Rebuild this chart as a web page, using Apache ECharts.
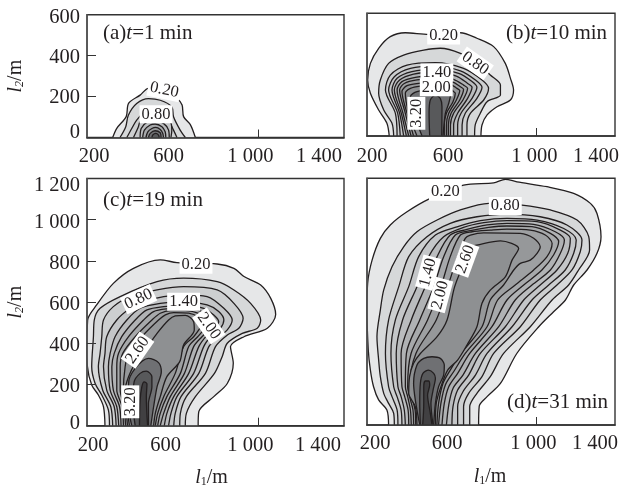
<!DOCTYPE html>
<html><head><meta charset="utf-8">
<style>html,body{margin:0;padding:0;background:#fff}#c{width:620px;height:490px}</style>
<script src="https://cdn.jsdelivr.net/npm/echarts@6/dist/echarts.min.js"></script>
</head><body><div id="c"></div>
<script>
const levels=['0.20','0.80','1.00','1.20','1.40','1.60','1.80','2.00','2.30','2.60','2.90','3.20','3.50'];
const levelColors=['#e6e7e8','#d6d8d9','#cdcfd0','#c4c6c8','#babcbe','#b0b2b4','#a7a9ab','#9ea0a2','#96989a','#8e9092','#6f7073','#58595b','#414042'];

const a1=[[320,0],[339,45],[383,102],[394,167],[448,207],[487,240],[558,224],[620,191],[644,159],[651,102],[683,62],[706,0]];
const a2=[[354,0],[381,53],[393,109],[432,166],[487,190],[542,182],[596,150],[604,101],[635,36],[659,0]];
const a3=[[386,0],[409,44],[432,85],[471,126],[518,142],[557,126],[581,85],[604,36],[620,0]];
const a4=[[417,0],[440,53],[448,77],[518,118],[589,77],[596,36],[592,0]];
const a5=[[448,0],[453,44],[479,74],[518,82],[557,69],[581,36],[584,0]];
const a6=[[460,0],[468,36],[495,61],[518,66],[550,53],[565,28],[568,0]];
const a7=[[475,0],[484,28],[503,44],[521,49],[542,39],[554,20],[557,0]];
const a8=[[487,0],[495,20],[518,33],[542,23],[546,0]];
const a9=[[503,0],[507,12],[521,20],[534,12],[537,0]];

const b1=[[305,0],[294,62],[255,127],[216,209],[203,274],[216,355],[255,429],[310,486],[381,505],[491,497],[641,505],[719,478],[798,437],[853,355],[877,283],[892,225],[877,176],[814,143],[767,103],[743,54],[738,0]];
const b2=[[326,0],[318,62],[279,127],[255,209],[263,274],[302,355],[373,396],[468,420],[546,429],[641,404],[719,355],[782,298],[830,249],[830,200],[767,168],[735,111],[711,54],[708,0]];
const b3=[[342,0],[334,111],[287,225],[310,298],[389,347],[523,359],[656,331],[743,274],[774,233],[751,176],[688,111],[672,54],[672,0]];
const b4=[[357,0],[345,111],[302,225],[329,290],[405,331],[523,342],[641,319],[712,274],[743,238],[719,184],[664,111],[649,54],[649,0]];
const b5=[[373,0],[354,111],[318,225],[342,282],[412,315],[523,326],[633,306],[696,266],[719,238],[696,184],[644,111],[628,54],[628,0]];
const b6=[[386,0],[362,111],[329,225],[354,274],[420,303],[523,313],[622,293],[675,257],[696,238],[675,184],[628,111],[609,54],[609,0]];
const b7=[[397,0],[370,111],[342,225],[365,266],[428,287],[523,297],[609,277],[656,249],[675,233],[653,176],[609,111],[594,54],[594,0]];
const b8=[[408,0],[381,111],[354,225],[376,257],[436,274],[523,280],[601,266],[641,241],[656,228],[638,176],[597,111],[584,54],[584,0]];
const b9=[[420,0],[389,111],[365,217],[389,246],[444,257],[523,264],[594,253],[625,233],[638,222],[622,176],[586,111],[575,54],[575,0]];
const b10=[[436,0],[397,111],[381,209],[405,233],[452,244],[523,249],[586,238],[609,217],[617,209],[606,168],[575,111],[565,54],[565,0]];
const b11=[[460,0],[420,111],[405,192],[436,217],[523,228],[578,217],[594,200],[586,160],[570,111],[559,0]];
const b12=[[496,0],[493,111],[499,176],[523,200],[546,184],[554,143],[553,0]];

const c1=[[284,0],[277,92],[253,149],[222,198],[202,287],[200,367],[203,513],[245,586],[323,691],[417,764],[542,805],[620,792],[808,785],[886,764],[933,724],[1011,683],[1058,618],[1081,540],[1042,473],[933,432],[870,384],[883,303],[855,205],[792,141],[722,68],[719,0]];
const c2=[[305,0],[300,76],[269,149],[238,205],[222,286],[230,432],[234,513],[261,570],[355,627],[527,699],[651,716],[808,699],[886,659],[964,594],[1011,513],[995,473],[925,448],[855,400],[831,335],[795,254],[706,141],[664,60],[659,0]];
const c3=[[320,0],[311,92],[273,173],[253,286],[261,351],[269,432],[277,513],[323,578],[402,627],[527,659],[651,675],[808,659],[886,594],[929,521],[909,473],[855,440],[800,384],[753,254],[664,141],[636,60],[633,0]];
const c4=[[336,0],[327,92],[292,173],[277,286],[284,351],[292,432],[339,513],[402,570],[464,602],[558,627],[651,635],[761,627],[839,570],[878,513],[855,465],[808,424],[769,384],[722,254],[639,141],[612,60],[605,0]];
const c5=[[348,0],[339,92],[308,173],[300,286],[308,351],[331,432],[386,513],[448,570],[542,594],[651,602],[761,586],[815,554],[839,513],[823,473],[784,440],[745,384],[698,254],[620,141],[592,60],[581,0]];
const c6=[[359,0],[352,92],[323,173],[316,286],[327,351],[362,432],[425,513],[480,562],[558,578],[651,583],[745,570],[792,537],[815,505],[792,465],[761,440],[722,384],[675,254],[605,141],[573,60],[561,0]];
const c7=[[370,0],[364,92],[339,173],[339,286],[347,351],[394,432],[464,513],[511,554],[573,567],[651,570],[737,554],[776,526],[792,497],[769,465],[737,432],[698,384],[655,254],[589,141],[558,60],[542,0]];
const c8=[[380,0],[373,92],[355,173],[355,286],[367,351],[425,432],[503,513],[542,546],[589,559],[659,559],[730,542],[761,516],[769,497],[745,465],[717,432],[675,384],[636,254],[573,141],[542,60],[530,0]];
const c9=[[389,0],[381,92],[370,173],[378,286],[394,351],[456,432],[534,513],[566,538],[605,549],[675,546],[722,526],[742,500],[722,465],[698,432],[651,384],[612,254],[558,141],[530,60],[519,0]];
const c10=[[398,0],[386,92],[378,173],[394,238],[425,303],[472,367],[527,448],[581,513],[612,533],[659,536],[698,505],[701,465],[651,392],[633,311],[573,238],[542,141],[519,60],[511,0]];
const c11=[[409,0],[394,92],[394,205],[425,278],[487,327],[534,306],[547,262],[527,189],[511,92],[498,0]];
const c12=[[425,0],[414,108],[420,213],[448,254],[477,265],[503,238],[503,189],[487,108],[487,0]];
const c13=[[445,0],[448,124],[456,189],[467,213],[480,202],[477,141],[483,0]];

const d1=[[302,0],[294,73],[255,122],[231,186],[216,267],[206,365],[200,559],[203,689],[224,802],[263,908],[310,973],[389,1037],[499,1102],[656,1167],[798,1178],[853,1195],[908,1183],[1050,1159],[1176,1127],[1255,1078],[1286,1029],[1305,916],[1286,835],[1239,754],[1176,681],[1137,608],[1081,551],[1011,478],[908,349],[830,202],[767,138],[730,92],[727,0]];
const d2=[[329,0],[326,57],[302,105],[279,154],[263,235],[255,316],[247,430],[263,559],[279,657],[318,770],[373,867],[436,940],[531,997],[641,1046],[775,1078],[932,1070],[1066,1046],[1192,997],[1247,916],[1251,851],[1199,754],[1152,681],[1074,608],[971,478],[845,348],[782,235],[719,154],[685,89],[685,0]];
const d3=[[346,0],[342,73],[318,138],[302,186],[287,348],[302,511],[350,673],[397,819],[483,916],[593,981],[719,1013],[861,1026],[1018,1013],[1144,973],[1215,900],[1207,843],[1168,754],[1097,681],[1018,608],[924,478],[798,348],[743,235],[680,154],[656,89],[656,0]];
const d4=[[365,0],[361,73],[342,138],[326,186],[313,348],[334,511],[397,673],[444,819],[523,924],[625,964],[735,994],[861,1005],[1003,997],[1129,956],[1188,900],[1176,835],[1136,754],[1058,681],[979,608],[885,478],[767,348],[712,243],[653,162],[628,89],[628,0]];
const d5=[[381,0],[376,73],[361,138],[346,186],[338,348],[368,511],[436,673],[491,819],[562,916],[656,961],[751,984],[861,994],[1003,989],[1113,948],[1160,908],[1148,835],[1097,754],[1018,681],[940,608],[853,478],[735,348],[680,243],[628,170],[606,89],[601,0]];
const d6=[[397,0],[394,73],[378,138],[365,186],[361,348],[409,511],[475,673],[531,819],[593,924],[672,951],[767,973],[861,981],[987,976],[1089,940],[1132,900],[1113,835],[1066,754],[979,681],[900,608],[822,478],[712,348],[653,243],[606,178],[586,97],[575,0]];
const d7=[[409,0],[405,73],[392,138],[381,186],[386,348],[449,511],[515,673],[562,819],[617,924],[688,945],[774,961],[861,968],[979,965],[1066,932],[1105,892],[1081,827],[1026,754],[940,681],[861,608],[790,478],[685,348],[628,251],[586,186],[565,105],[554,0]];
const d8=[[420,0],[417,73],[401,138],[392,186],[408,348],[486,511],[549,673],[593,819],[641,924],[696,940],[782,948],[861,953],[971,948],[1042,924],[1074,883],[1050,819],[987,754],[900,681],[817,608],[767,478],[664,348],[609,259],[570,195],[549,105],[538,0]];
const d9=[[430,0],[427,73],[411,138],[401,186],[431,348],[527,511],[581,673],[628,819],[664,908],[688,924],[751,935],[924,932],[987,908],[1018,867],[1003,835],[971,802],[924,786],[893,754],[845,681],[782,608],[743,478],[644,348],[593,267],[559,203],[538,105],[530,0]];
const d10=[[436,0],[428,89],[397,154],[401,235],[420,300],[452,348],[531,430],[578,511],[614,673],[669,810],[704,870],[719,875],[830,896],[916,859],[885,802],[853,721],[782,656],[743,592],[719,478],[672,389],[628,316],[581,267],[549,186],[527,105],[523,0]];
const d11=[[449,0],[428,122],[420,203],[436,292],[468,324],[507,332],[546,324],[565,292],[562,243],[538,186],[523,105],[515,0]];
const d12=[[452,0],[449,105],[452,203],[464,251],[491,267],[515,251],[523,227],[512,170],[502,105],[512,0]];
const d13=[[463,0],[468,105],[468,186],[475,214],[491,214],[496,194],[486,146],[499,57],[507,0]];

const contoursA=[a1,a2,a3,a4,a5,a6,a7,a8,a9];
const levelIdxA=[0,1,2,3,4,6,8,10,11];
const contoursB=[b1,b2,b3,b4,b5,b6,b7,b8,b9,b10,b11,b12];
const contoursC=[c1,c2,c3,c4,c5,c6,c7,c8,c9,c10,c11,c12,c13];
const contoursD=[d1,d2,d3,d4,d5,d6,d7,d8,d9,d10,d11,d12,d13];

const labelsA=[['0.20',561,232,-12],['0.80',522,113,0]];
const labelsB=[['0.20',562,491,0],['0.80',711,355,-35],['1.40',530,310,0],['2.00',527,238,0],['3.20',433,111,90]];
const labelsC=[['0.20',709,781,0],['0.80',441,614,25],['1.40',651,602,0],['2.00',769,484,-55],['2.60',436,367,55],['3.20',402,116,90]];
const labelsD=[['0.20',570,1135,0],['0.80',853,1065,0],['1.40',488,741,75],['2.00',546,632,75],['2.60',664,806,70]];

const xTickLabels=['200','600','1 000','1 400'];
const xTicksLeft=[200,600,1000,1400];
const xTicksRight=[200,600,1000,1371];
const yTicksShort=[0,200,400,600];
const yTicksTall=[0,200,400,600,800,1000,1200];
const yLabelsTall=['0','200','400','600','800','1 000','1 200'];

const FONT='"Liberation Serif","Times New Roman",serif';
const INK='#231f20';
const TICKSIZE=20.5;

function xAxisFor(g,vals,shift,margin,named,namePad){
  const rich={};
  vals.forEach((v,i)=>{const d=shift[i];
    rich['s'+i]={fontFamily:FONT,fontSize:TICKSIZE,color:INK,padding:d>=0?[0,0,0,2*d]:[0,-2*d,0,0]};});
  return {gridIndex:g,type:'value',min:vals[0],max:vals[3],z:20,
    splitLine:{show:false},
    axisLine:{show:true,onZero:false,lineStyle:{color:'#333',width:1.6}},
    axisTick:{show:true,inside:true,length:8,customValues:[1000],lineStyle:{color:'#333',width:1}},
    axisLabel:{show:true,margin,customValues:vals,hideOverlap:false,showMinLabel:true,showMaxLabel:true,
      formatter:v=>{const i=vals.indexOf(v);return '{s'+i+'|'+xTickLabels[i]+'}';},rich},
    name:named?'{i|l}{s|1}{n|/m}':'',nameLocation:'middle',nameGap:42,nameMoveOverlap:false,
    nameTextStyle:{padding:[0,namePad||0,0,0],rich:{i:{fontFamily:FONT,fontStyle:'italic',fontSize:20,color:INK},
      s:{fontFamily:FONT,fontSize:12,color:INK,verticalAlign:'bottom'},n:{fontFamily:FONT,fontSize:20,color:INK}}}};
}
function yAxisFor(g,max,ticks,shift,labels,tickVals,named){
  const rich={};
  if(shift) shift.forEach((d,i)=>{
    rich['s'+i]={fontFamily:FONT,fontSize:TICKSIZE,color:INK,padding:d>=0?[2*d,0,0,0]:[0,0,-2*d,0]};});
  return {gridIndex:g,type:'value',min:0,max,interval:200,z:20,
    splitLine:{show:false},
    axisLine:{show:true,onZero:false,lineStyle:{color:'#555',width:1.6}},
    axisTick:{show:!!shift,inside:true,length:9,customValues:tickVals,lineStyle:{color:'#333',width:1}},
    axisLabel:{show:!!shift,margin:7,showMinLabel:true,showMaxLabel:true,
      formatter:v=>{const i=ticks.indexOf(v);return '{s'+i+'|'+labels[i]+'}';},rich},
    name:named?'{i|l}{s|2}{n|/m}':'',nameLocation:'middle',nameGap:61,nameRotate:90,nameMoveOverlap:false,
    nameTextStyle:{rich:{i:{fontFamily:FONT,fontStyle:'italic',fontSize:20,color:INK},
      s:{fontFamily:FONT,fontStyle:'italic',fontSize:12,color:INK,verticalAlign:'bottom'},n:{fontFamily:FONT,fontSize:20,color:INK}}}};
}
function contourSeries(g,contours,idx){
  return contours.map((pts,i)=>{
    const li=idx?idx[i]:i;
    return {type:'line',name:levels[li],xAxisIndex:g,yAxisIndex:g,data:pts,smooth:0.3,symbol:'none',silent:true,
      clip:true,z:3+i,animation:false,
      lineStyle:{color:INK,width:1.3},
      areaStyle:{color:levelColors[li],opacity:1,origin:'start'}};
  });
}
function labelSeries(g,labels){
  return {type:'scatter',xAxisIndex:g,yAxisIndex:g,symbolSize:1,itemStyle:{color:'rgba(0,0,0,0)'},silent:true,z:30,animation:false,
    labelLayout:{hideOverlap:false},
    data:labels.map(l=>({value:[l[1],l[2]],
      label:{show:true,position:'inside',formatter:l[0],rotate:l[3],fontFamily:FONT,fontSize:16.5,color:INK,
        backgroundColor:'#fff',padding:[1,2,0,2],opacity:1}}))};
}
function titleFor(tag,t,left,top){
  return {left,top,text:'{a|('+tag+')}{i|t}{a|='+t+' min}',
    textStyle:{fontWeight:'normal',rich:{a:{fontFamily:FONT,fontSize:21,fontWeight:'normal',color:INK},i:{fontFamily:FONT,fontStyle:'italic',fontWeight:'normal',fontSize:21,color:INK}}},z:40};
}
function gridFor(left,top,width,height){
  return {left,top,width,height,show:true,borderColor:'#333',borderWidth:1.4,outerBoundsMode:'none'};
}

const chart=echarts.init(document.getElementById('c'),null,{renderer:'canvas'});
chart.setOption({
  animation:false,backgroundColor:'#fff',
  title:[titleFor('a','1',98,18),titleFor('b','10',501,18),titleFor('c','19',98,185),titleFor('d','31',502,387)],
  grid:[gridFor(87,14.7,257,122.8),gridFor(367,13.3,248,122.7),gridFor(87,178.5,257,247.2),gridFor(367,178.3,248,246.7)],
  xAxis:[
    xAxisFor(0,xTicksLeft,[7,-4,-8,-25],9,false),
    xAxisFor(1,xTicksRight,[5,-3.5,-2,-19],10,false),
    xAxisFor(2,xTicksLeft,[6,-7,-8,-26],9,true,8),
    xAxisFor(3,xTicksRight,[8,-4.5,-3,-20],8,true,2)
  ],
  yAxis:[
    yAxisFor(0,600,yTicksShort,[-4.5,1,1.5,2.5],yTicksShort.map(String),[200,400],true),
    yAxisFor(1,600,yTicksShort,null,null,[],false),
    yAxisFor(2,1200,yTicksTall,[-2.5,2,2.5,3,2.5,3,7.5],yLabelsTall,[200,400,600,800,1000],true),
    yAxisFor(3,1200,yTicksTall,null,null,[],false)
  ],
  series:[].concat(
    contourSeries(0,contoursA,levelIdxA),[labelSeries(0,labelsA)],
    contourSeries(1,contoursB),[labelSeries(1,labelsB)],
    contourSeries(2,contoursC),[labelSeries(2,labelsC)],
    contourSeries(3,contoursD),[labelSeries(3,labelsD)]
  )
});
</script></body></html>
